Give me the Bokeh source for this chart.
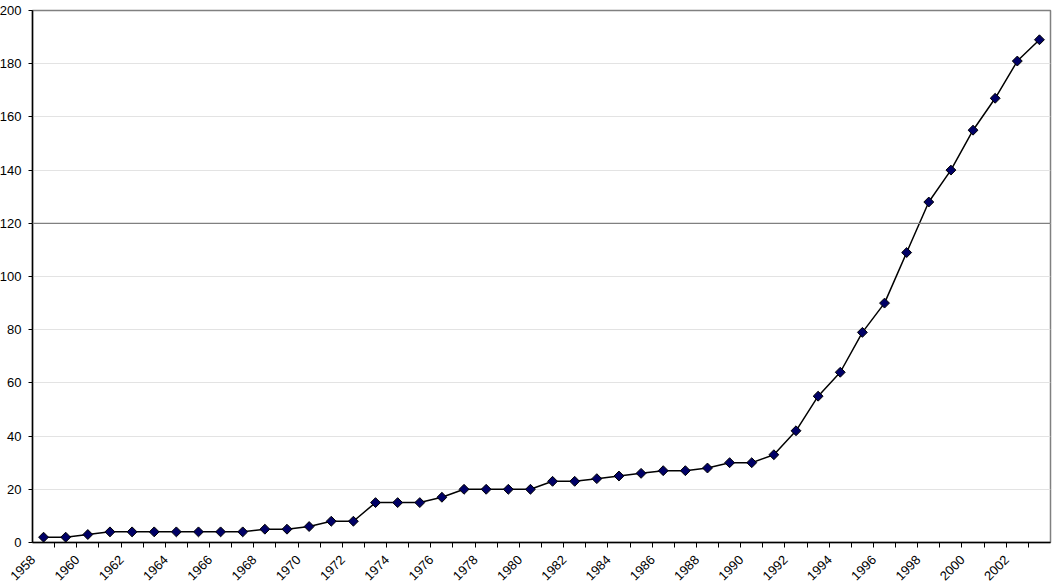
from bokeh.plotting import figure
from bokeh.models import FixedTicker, Range1d, Span, CustomJSTickFormatter
from bokeh.embed import file_html
from bokeh.resources import INLINE
import math

years = list(range(1958, 2004))
values = [2, 2, 3, 4, 4, 4, 4, 4, 4, 4, 5, 5, 6, 8, 8, 15, 15, 15, 17, 20,
          20, 20, 20, 23, 23, 24, 25, 26, 27, 27, 28, 30, 30, 33, 42, 55, 64, 79, 90, 109,
          128, 140, 155, 167, 181, 189]
y_ticks = list(range(0, 201, 20))
x_label_years = [y for y in years if y % 2 == 0]
highlight_level = 120

LABEL_SHIFT = 0.48  # rotated labels end near the category centre

p = figure(width=1062, height=588, output_backend="svg", toolbar_location=None,
           x_range=Range1d(years[0] - 0.5, years[-1] + 0.5), y_range=Range1d(0, 200),
           min_border_left=0, min_border_right=8, min_border_top=10, min_border_bottom=46)
p.styles = {"margin-left": "-4px"}
p.background_fill_color = "white"
p.border_fill_color = "white"
p.outline_line_color = "#808080"
p.outline_line_width = 1.5

font = "Liberation Sans"

xa = p.xaxis[0]
xa.ticker = FixedTicker(ticks=[y - LABEL_SHIFT for y in x_label_years],
                        minor_ticks=[y + 0.5 for y in years[:-1]])
xa.formatter = CustomJSTickFormatter(code="return String(Math.round(tick + %s));" % LABEL_SHIFT)
xa.major_tick_out = 0
xa.major_tick_in = 0
xa.minor_tick_out = 5
xa.minor_tick_in = 0
xa.minor_tick_line_color = "black"
xa.axis_line_color = "black"
xa.axis_line_width = 1.5
xa.major_label_orientation = math.pi / 4
xa.major_label_text_font = font
xa.major_label_text_font_size = "13px"
xa.major_label_text_color = "black"
xa.major_label_standoff = 10

ya = p.yaxis[0]
ya.ticker = FixedTicker(ticks=y_ticks, minor_ticks=[])
ya.major_tick_out = 4
ya.major_tick_in = 0
ya.minor_tick_out = 0
ya.axis_line_color = "black"
ya.axis_line_width = 1.5
ya.major_label_text_font = font
ya.major_label_text_font_size = "13px"
ya.major_label_text_color = "black"
ya.major_label_standoff = 7

p.xgrid.visible = False
p.ygrid.ticker = FixedTicker(ticks=y_ticks)
p.ygrid.grid_line_color = "#e3e3e3"
p.ygrid.grid_line_width = 1

p.add_layout(Span(location=highlight_level, dimension="width", line_color="#808080", line_width=1.2))

p.line(years, values, line_color="black", line_width=1.5)
p.scatter(years, values, marker="square", angle=math.pi / 4, size=7,
          fill_color="#000066", line_color="black", line_width=1)

open("out.html", "w").write(file_html(p, INLINE))
